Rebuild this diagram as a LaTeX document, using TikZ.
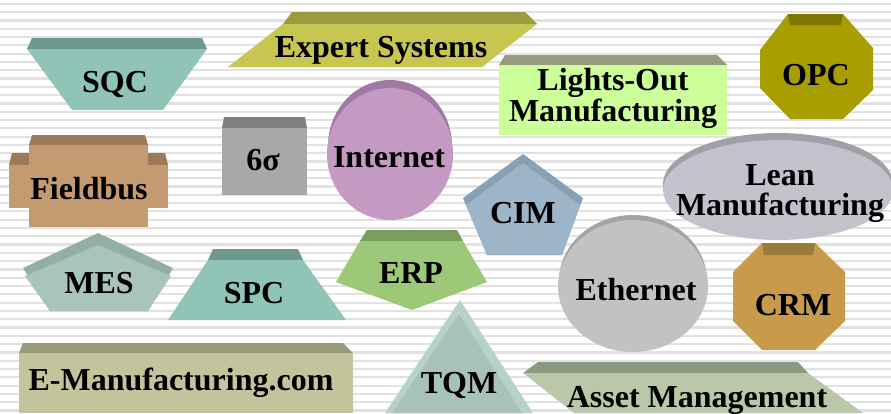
\documentclass[tikz,border=0pt]{standalone}
\usepackage{fontspec}
\setmainfont{Liberation Serif}
\usetikzlibrary{positioning}

\definecolor{stripecol}{HTML}{E2E2E2}
\definecolor{sqcface}{HTML}{8FC4B7}
\definecolor{sqcband}{HTML}{6E9990}
\definecolor{expface}{HTML}{C6C650}
\definecolor{expband}{HTML}{9C9C3C}
\definecolor{lightface}{HTML}{CCFF99}
\definecolor{lightband}{HTML}{9A9A7C}
\definecolor{opcface}{HTML}{A89E00}
\definecolor{opcband}{HTML}{7E7800}
\definecolor{fieldface}{HTML}{C49A70}
\definecolor{fieldband}{HTML}{9C7A58}
\definecolor{sigface}{HTML}{A8A8A8}
\definecolor{sigband}{HTML}{808080}
\definecolor{netface}{HTML}{C49AC4}
\definecolor{netband}{HTML}{A07AA4}
\definecolor{cimface}{HTML}{9DB5C9}
\definecolor{cimband}{HTML}{88A0B4}
\definecolor{leanface}{HTML}{C2C2CC}
\definecolor{leanband}{HTML}{A0A0A8}
\definecolor{ethface}{HTML}{C2C2C2}
\definecolor{ethband}{HTML}{A4A4A4}
\definecolor{crmface}{HTML}{C89B4A}
\definecolor{crmband}{HTML}{9C7A3A}
\definecolor{mesface}{HTML}{A8C4BC}
\definecolor{mesband}{HTML}{92AEA6}
\definecolor{erpface}{HTML}{9CC878}
\definecolor{erpband}{HTML}{7A9E5C}
\definecolor{tqmface}{HTML}{A6C2BA}
\definecolor{tqmedge}{HTML}{B6D2CA}
\definecolor{emface}{HTML}{C4C49C}
\definecolor{emband}{HTML}{9A9A7A}
\definecolor{assetface}{HTML}{B8C8A8}
\definecolor{assetband}{HTML}{8A9A80}

\tikzset{tag/.style={font=\bfseries\fontsize{32}{29.5}\selectfont,
    align=center, inner sep=0pt, anchor=base}}

\begin{document}
\begin{tikzpicture}[x=1pt,y=-1pt]
\useasboundingbox (0,0) rectangle (891,413);
\fill[white] (0,0) rectangle (891,413);
\foreach \i in {0,...,49}
  \fill[stripecol] (0,2.7+8.3*\i) rectangle ++(891,2.2);

% SQC
\fill[sqcband] (32,38) -- (202,38) -- (207,49) -- (27,49) -- cycle;
\fill[sqcface] (27,49) -- (207,49) -- (163,110) -- (72,110) -- cycle;
\node[tag] (sqc) at (115,92) {SQC};

% Expert Systems
\fill[expband] (292,12) -- (525,12) -- (537,24) -- (283,24) -- cycle;
\fill[expface] (283,24) -- (537,24) -- (482,67) -- (228,67) -- cycle;
\node[tag] (expert) at (381,57) {Expert Systems};

% Lights-Out Manufacturing
\fill[lightband] (505,55) -- (717,55) -- (727,65) -- (499,65) -- cycle;
\fill[lightface] (499,65) rectangle (727,135);
\node[tag] (lights) at (613,121) {Lights-Out\\Manufacturing};

% OPC
\fill[opcface] (788,14) -- (843,14) -- (873,48) -- (873,90) -- (843,119)
  -- (790,119) -- (760,88) -- (760,50) -- cycle;
\fill[opcband] (788,14) -- (843,14) -- (841,25) -- (790,25) -- cycle;
\node[tag] (opc) at (816,85) {OPC};

% Fieldbus
\fill[fieldband] (32,135) -- (145,135) -- (148,145) -- (29,145) -- cycle;
\fill[fieldband] (12,153) -- (29,153) -- (29,165) -- (9,165) -- cycle;
\fill[fieldband] (148,153) -- (165,153) -- (168,165) -- (148,165) -- cycle;
\fill[fieldface] (29,145) rectangle (148,227);
\fill[fieldface] (9,165) rectangle (168,208);
\node[tag] (field) at (89,199) {Fieldbus};

% six sigma
\fill[sigband] (224,117) -- (305,117) -- (307,128) -- (222,128) -- cycle;
\fill[sigface] (222,128) rectangle (307,195);
\node[tag] (sigma) at (263,170) {6σ};

% Internet
\fill[netband] (390,146) ellipse [x radius=62, y radius=66];
\fill[netface] (390,154) ellipse [x radius=63, y radius=66];
\node[tag] (internet) at (389,167) {Internet};

% CIM
\fill[cimband] (523,154) -- (583,198) -- (562,255) -- (487,255) -- (463,198) -- cycle;
\fill[cimface] (523,163) -- (580,205) -- (562,255) -- (487,255) -- (466,205) -- cycle;
\node[tag] (cim) at (523,223) {CIM};

% Lean Manufacturing
\fill[leanband] (778,184) ellipse [x radius=115, y radius=51];
\fill[leanface] (778,190) ellipse [x radius=115, y radius=50];
\node[tag] (lean) at (780,215) {Lean\\Manufacturing};

% Ethernet
\fill[ethband] (633,281) ellipse [x radius=74, y radius=66];
\fill[ethface] (633,286) ellipse [x radius=75, y radius=66];
\node[tag] (ether) at (636,300) {Ethernet};

% CRM
\fill[crmface] (762,243) -- (815,243) -- (845,272) -- (845,321) -- (815,350)
  -- (762,350) -- (733,321) -- (733,272) -- cycle;
\fill[crmband] (762,243) -- (815,243) -- (813,255) -- (764,255) -- cycle;
\node[tag] (crm) at (793,315) {CRM};

% MES
\fill[mesband] (98,233) -- (173,268) -- (148,311) -- (50,311) -- (23,268) -- cycle;
\fill[mesface] (98,245) -- (171,276) -- (148,311) -- (50,311) -- (25,276) -- cycle;
\node[tag] (mes) at (99,293) {MES};

% SPC
\fill[sqcband] (213,249) -- (298,249) -- (303,260) -- (208,260) -- cycle;
\fill[sqcface] (208,260) -- (303,260) -- (346,320) -- (168,320) -- cycle;
\node[tag] (spc) at (254,303) {SPC};

% ERP
\fill[erpband] (367,230) -- (457,230) -- (463,241) -- (360,241) -- cycle;
\fill[erpface] (360,241) -- (463,241) -- (487,282) -- (412,310) -- (336,282) -- cycle;
\node[tag] (erp) at (411,283) {ERP};

% TQM
\fill[tqmedge] (460,300) -- (533,413) -- (385,413) -- cycle;
\fill[tqmface] (459,314) -- (522,413) -- (392,413) -- cycle;
\node[tag] (tqm) at (459,393) {TQM};

% E-Manufacturing.com
\fill[emband] (23,343) -- (343,343) -- (353,353) -- (19,353) -- cycle;
\fill[emface] (19,353) rectangle (353,413);
\node[tag] (emfg) at (181,390) {E-Manufacturing.com};

% Asset Management
\fill[assetband] (538,362) -- (798,362) -- (808,373) -- (523,373) -- cycle;
\fill[assetface] (523,373) -- (808,373) -- (863,413) -- (574,413) -- cycle;
\node[tag] (asset) at (697,407) {Asset Management};
\end{tikzpicture}
\end{document}
